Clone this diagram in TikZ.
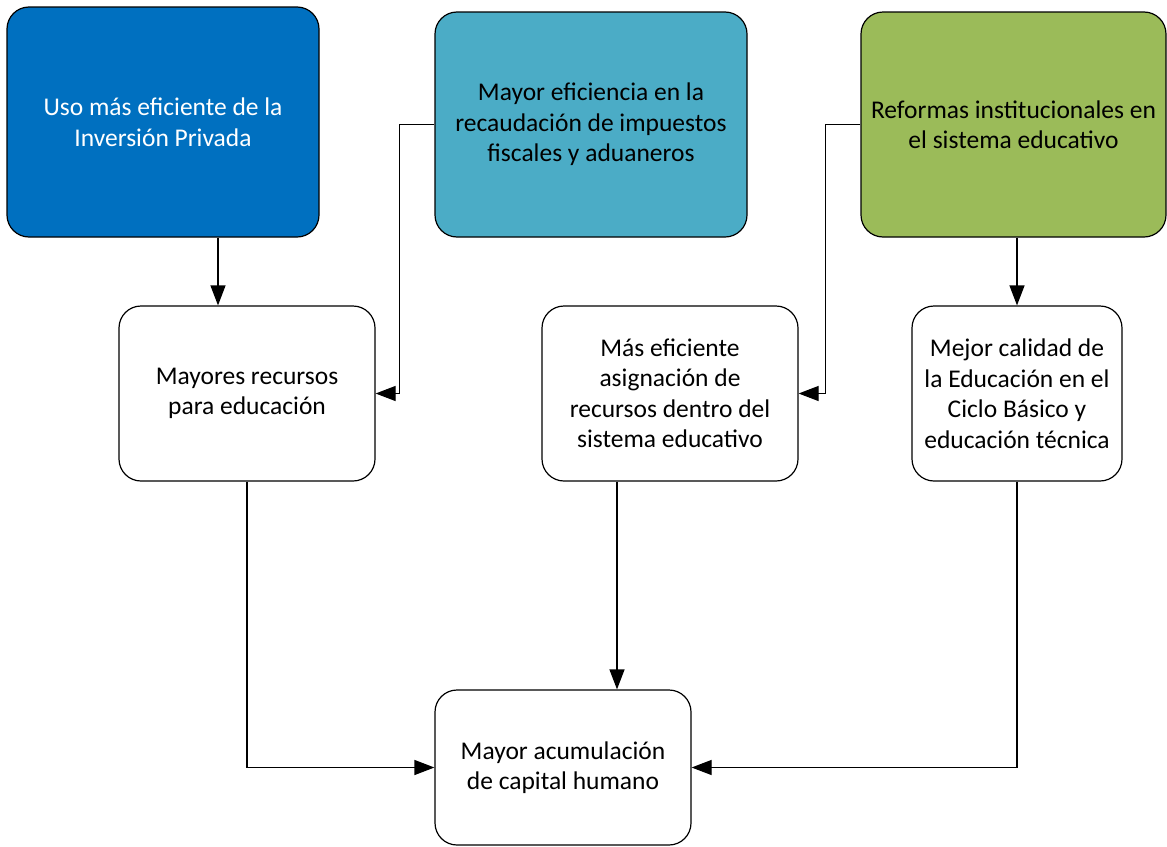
\documentclass[tikz,border=0pt]{standalone}
\usepackage{fontspec}
\setmainfont{Carlito}
\usetikzlibrary{arrows.meta}
\definecolor{c1}{HTML}{0070C0}
\definecolor{c2}{HTML}{4BACC6}
\definecolor{c3}{HTML}{9BBB59}
\begin{document}
\begin{tikzpicture}[x=1pt,y=-1pt,
  box/.style={draw=black,line width=1.2pt,rounded corners=22pt,align=center,
    font=\fontsize{25.5}{30.5}\selectfont,inner sep=0pt},
  arr/.style={draw=black,line width=1.2pt,-{Triangle[length=20pt,width=15pt]}}]
\useasboundingbox (0,0) rectangle (1167,846);
\node[box,fill=c1,text=white,minimum width=312pt,minimum height=230pt] (b1) at (163,122)
  {Uso más eficiente de la\\Inversión Privada};
\node[box,fill=c2,minimum width=312pt,minimum height=225pt] (b2) at (591,124.5)
  {Mayor eficiencia en la\\recaudación de impuestos\\fiscales y aduaneros};
\node[box,fill=c3,minimum width=305pt,minimum height=225pt] (b3) at (1013.5,124.5)
  {Reformas institucionales en\\el sistema educativo};
\node[box,minimum width=256pt,minimum height=175pt] (b4) at (247,393.5)
  {Mayores recursos\\para educación};
\node[box,minimum width=256pt,minimum height=175pt] (b5) at (670,393.5)
  {Más eficiente\\asignación de\\recursos dentro del\\sistema educativo};
\node[box,minimum width=210pt,minimum height=175pt] (b6) at (1017,393.5)
  {Mejor calidad de\\la Educación en el\\Ciclo Básico y\\educación técnica};
\node[box,minimum width=256pt,minimum height=155pt] (b7) at (563,767.5)
  {Mayor acumulación\\de capital humano};
\draw[arr] ([xshift=55pt]b1.south) -- ([xshift=-29pt]b4.north);
\draw[arr] (b2.west) -- ++(-35,0) |- (b4.east);
\draw[arr] (b3.west) -- ++(-35,0) |- (b5.east);
\draw[arr] (b6.north |- b3.south) -- (b6.north);
\draw[arr] (b4.south) |- (b7.west);
\draw[arr] ([xshift=-53pt]b5.south) -- ([xshift=54pt]b7.north);
\draw[arr] (b6.south) |- (b7.east);
\end{tikzpicture}
\end{document}
